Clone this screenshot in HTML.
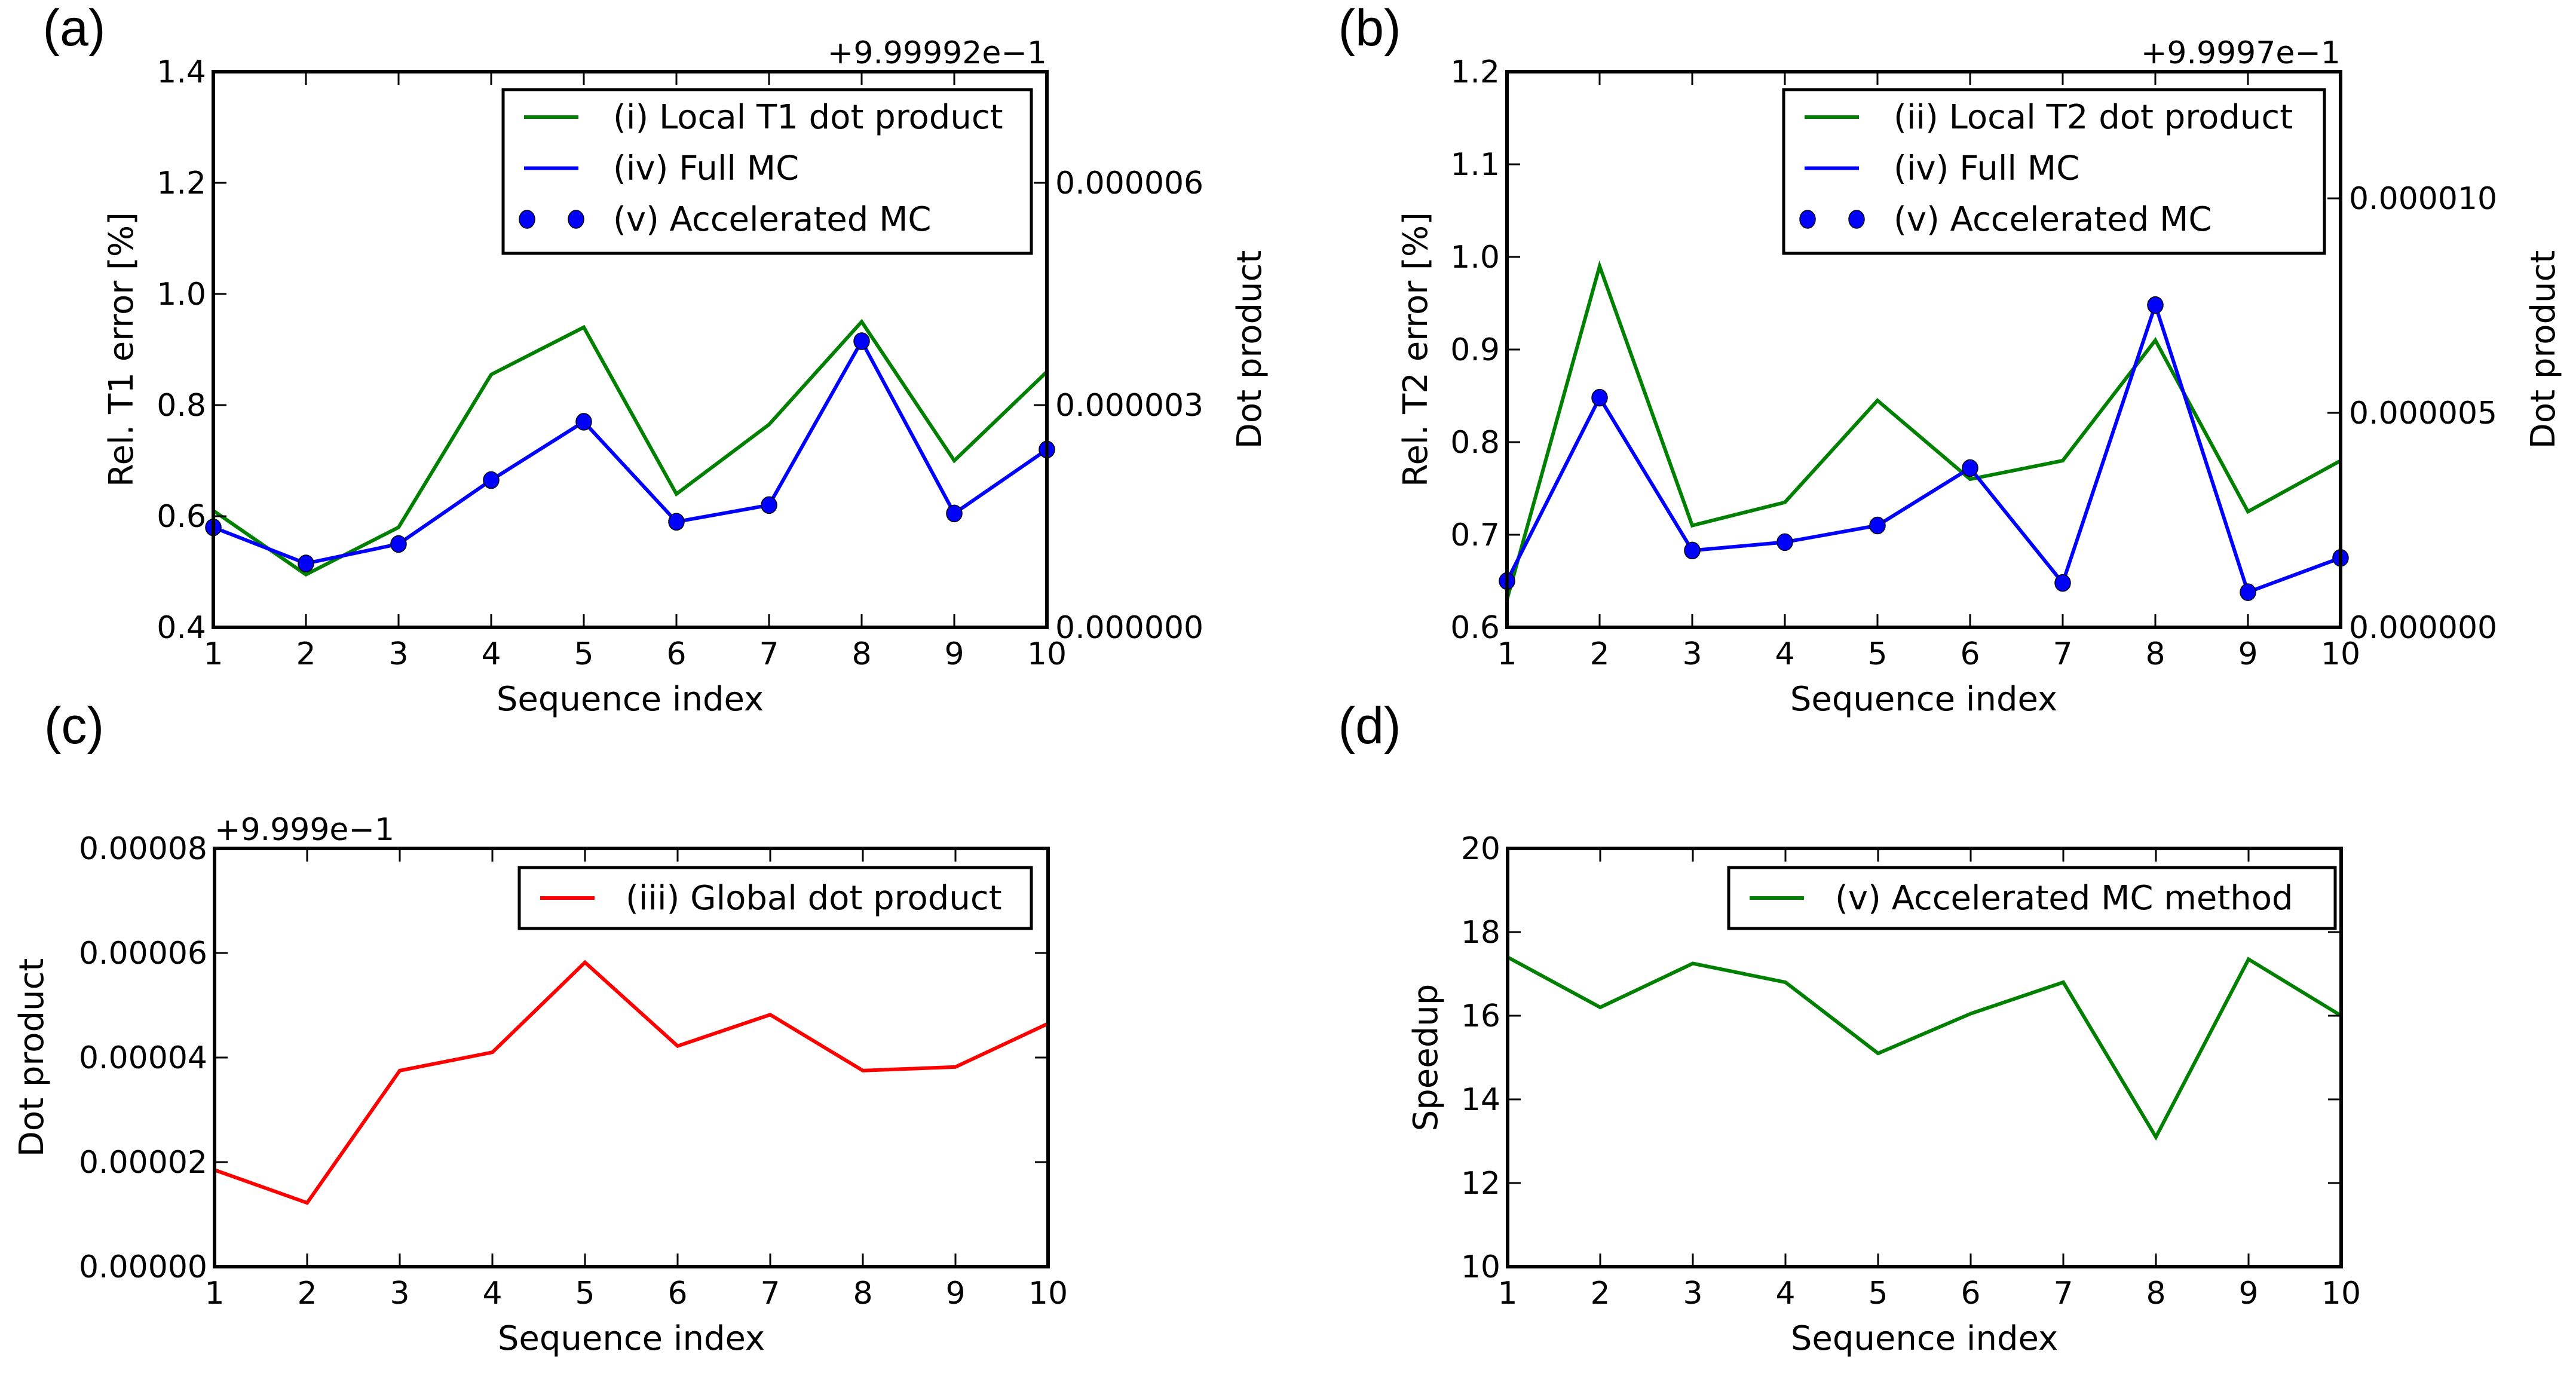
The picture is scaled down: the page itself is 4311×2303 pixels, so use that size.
<!DOCTYPE html>
<html><head><meta charset="utf-8"><style>
html,body{margin:0;padding:0;background:#fff;}
svg{display:block;font-family:"DejaVu Sans","Liberation Sans",sans-serif;}
</style></head><body>
<svg id="fig" width="4311" height="2303" viewBox="0 0 4311 2303" xmlns="http://www.w3.org/2000/svg"></svg>
<script>
const xCats = [1,2,3,4,5,6,7,8,9,10];
// panel a
const aGreen = [0.61,0.495,0.58,0.855,0.94,0.64,0.765,0.95,0.70,0.86];
const aBlue = [0.58,0.515,0.55,0.665,0.77,0.59,0.62,0.915,0.605,0.72];
const aTicks = ["0.4","0.6","0.8","1.0","1.2","1.4"];
const aRightTicks = ["0.000000","0.000003","0.000006"];
// panel b
const bGreen = [0.63,0.99,0.71,0.735,0.845,0.76,0.78,0.91,0.725,0.78];
const bBlue = [0.65,0.848,0.683,0.692,0.71,0.772,0.648,0.948,0.638,0.675];
const bTicks = ["0.6","0.7","0.8","0.9","1.0","1.1","1.2"];
const bRightTicks = ["0.000000","0.000005","0.000010"];
// panel c (x 1e-5)
const cRed = [1.85,1.22,3.75,4.1,5.82,4.22,4.82,3.75,3.82,4.65];
const cTicks = ["0.00000","0.00002","0.00004","0.00006","0.00008"];
// panel d
const dGreen = [17.4,16.2,17.25,16.8,15.1,16.05,16.8,13.1,17.35,16.0];
const dTicks = ["10","12","14","16","18","20"];

const NS="http://www.w3.org/2000/svg";
const svg=document.getElementById('fig');
function mk(tag,attrs,parent){const e=document.createElementNS(NS,tag);for(const k in attrs)e.setAttribute(k,attrs[k]);(parent||svg).appendChild(e);return e;}
function txt(s,attrs,parent){const e=mk('text',attrs,parent);e.textContent=s;return e;}

function panel(o){
  const g=mk('g',{});
  
  
  const L=o.x0,R=o.x1,T=o.y0,B=o.y1;
  const sx=v=>L+(v-1)/9*(R-L);
  const sy=v=>B-(v-o.ymin)/(o.ymax-o.ymin)*(B-T);
  o.series.forEach(s=>{
    const p=mk('polyline',{points:s.vals.map((v,i)=>sx(xCats[i])+','+sy(v)).join(' '),fill:'none',stroke:s.color,'stroke-width':6,'stroke-linejoin':'miter'},g);
    
    
    if(s.markers){s.vals.forEach((v,i)=>{
      const c=mk('ellipse',{cx:sx(xCats[i]),cy:sy(v),rx:13,ry:14,fill:'#0000ff',stroke:'#000','stroke-width':1.5},g);
      
      
    });}
  });
  const fr=mk('rect',{x:L,y:T,width:R-L,height:B-T,fill:'none',stroke:'#000','stroke-width':6},g);
  
  
  xCats.forEach(v=>{
    mk('line',{x1:sx(v),x2:sx(v),y1:B,y2:B-22,stroke:'#000','stroke-width':3},g);
    mk('line',{x1:sx(v),x2:sx(v),y1:T,y2:T+22,stroke:'#000','stroke-width':3},g);
    const t=txt(String(v),{x:sx(v),y:B+62,'font-size':52,'text-anchor':'middle'},g);
    
    
  });
  o.ticks.forEach(s=>{
    const v=parseFloat(s)*(o.tickScale||1);const y=sy(v);
    mk('line',{x1:L,x2:L+22,y1:y,y2:y,stroke:'#000','stroke-width':3},g);
    if(!o.rightTicks) mk('line',{x1:R,x2:R-22,y1:y,y2:y,stroke:'#000','stroke-width':3},g);
    const t=txt(s,{x:L-12,y:y+18,'font-size':52,'text-anchor':'end'},g);
    
    
  });
  if(o.rightTicks){o.rightTicks.forEach((s,i)=>{
    const y=B-o.rightFrac[i]*(B-T);
    mk('line',{x1:R,x2:R-22,y1:y,y2:y,stroke:'#000','stroke-width':3},g);
    const t=txt(s,{x:R+14,y:y+18,'font-size':52},g);
    
    
  });}
  const xl=txt('Sequence index',{x:(L+R)/2,y:B+139,'font-size':56,'text-anchor':'middle'},g);
  
  
  const yl=txt(o.ylabel,{x:0,y:0,'font-size':56,'text-anchor':'middle',transform:`translate(${o.ylabelX},${(T+B)/2}) rotate(-90)`},g);
  
  
  if(o.y2label){const r=txt(o.y2label,{x:0,y:0,'font-size':56,'text-anchor':'middle',transform:`translate(${o.y2labelX},${(T+B)/2}) rotate(-90)`},g);
    
    }
  if(o.offset){const t=txt(o.offset,{x:o.offsetX,y:T-14,'font-size':52,'text-anchor':o.offsetAnchor},g);
    
    }
  const pl=txt(o.tag,{x:o.tagX,y:o.tagY,'font-size':86,'font-family':'Liberation Sans, sans-serif','text-anchor':'middle'},g);
  
  
  const lg=o.legend;
  const lb=mk('rect',{x:lg.x,y:lg.y,width:lg.w,height:lg.h,fill:'#fff',stroke:'#000','stroke-width':5},g);
  
  
  lg.items.forEach((it,i)=>{
    const y=lg.y+lg.first+i*85.5;
    if(it.marker){
      mk('ellipse',{cx:lg.x+40,cy:y,rx:13,ry:15,fill:'#0000ff',stroke:'#000','stroke-width':1.5},g);
      mk('ellipse',{cx:lg.x+122,cy:y,rx:13,ry:15,fill:'#0000ff',stroke:'#000','stroke-width':1.5},g);
    } else mk('line',{x1:lg.x+35,x2:lg.x+126,y1:y,y2:y,stroke:it.color,'stroke-width':6},g);
    const t=txt(it.label,{x:lg.x+lg.textOff,y:y+19,'font-size':56},g);
    
    
  });
}

panel({name:'panel-a',x0:357,x1:1752,y0:120,y1:1050,ymin:0.4,ymax:1.4,ticks:aTicks,
  rightTicks:aRightTicks,rightFrac:[0,0.4,0.8],
  series:[{name:'local-t1',vals:aGreen,color:'#008000'},{name:'full-mc',vals:aBlue,color:'#0000ff',markers:true}],
  ylabel:'Rel. T1 error [%]',ylabelX:222,y2label:'Dot product',y2labelX:2110,
  offset:'+9.99992e\u22121',offsetX:1752,offsetAnchor:'end',tag:'(a)',tagX:124,tagY:76,
  legend:{x:842,y:150,w:884,h:274,first:46,textOff:184,items:[{label:'(i) Local T1 dot product',color:'#008000'},{label:'(iv) Full MC',color:'#0000ff'},{label:'(v) Accelerated MC',marker:true}]}});

panel({name:'panel-b',x0:2522,x1:3917,y0:120,y1:1050,ymin:0.6,ymax:1.2,ticks:bTicks,
  rightTicks:bRightTicks,rightFrac:[0,0.386,0.772],
  series:[{name:'local-t2',vals:bGreen,color:'#008000'},{name:'full-mc',vals:bBlue,color:'#0000ff',markers:true}],
  ylabel:'Rel. T2 error [%]',ylabelX:2388,y2label:'Dot product',y2labelX:4275,
  offset:'+9.9997e\u22121',offsetX:3917,offsetAnchor:'end',tag:'(b)',tagX:2292,tagY:76,
  legend:{x:2985,y:150,w:905,h:274,first:46,textOff:184,items:[{label:'(ii) Local T2 dot product',color:'#008000'},{label:'(iv) Full MC',color:'#0000ff'},{label:'(v) Accelerated MC',marker:true}]}});

panel({name:'panel-c',x0:359,x1:1754,y0:1420,y1:2120,ymin:0,ymax:8,ticks:cTicks,tickScale:1e5,
  series:[{name:'global-dot',vals:cRed,color:'#ff0000'}],
  ylabel:'Dot product',ylabelX:72,
  offset:'+9.999e\u22121',offsetX:359,offsetAnchor:'start',tag:'(c)',tagX:124,tagY:1244,
  legend:{x:869,y:1452,w:857,h:102,first:51,textOff:178,items:[{label:'(iii) Global dot product',color:'#ff0000'}]}});

panel({name:'panel-d',x0:2523,x1:3918,y0:1420,y1:2120,ymin:10,ymax:20,ticks:dTicks,
  series:[{name:'accelerated-mc-speedup',vals:dGreen,color:'#008000'}],
  ylabel:'Speedup',ylabelX:2405,
  tag:'(d)',tagX:2292,tagY:1244,
  legend:{x:2893,y:1452,w:1015,h:102,first:51,textOff:178,items:[{label:'(v) Accelerated MC method',color:'#008000'}]}});
</script>
</body></html>
